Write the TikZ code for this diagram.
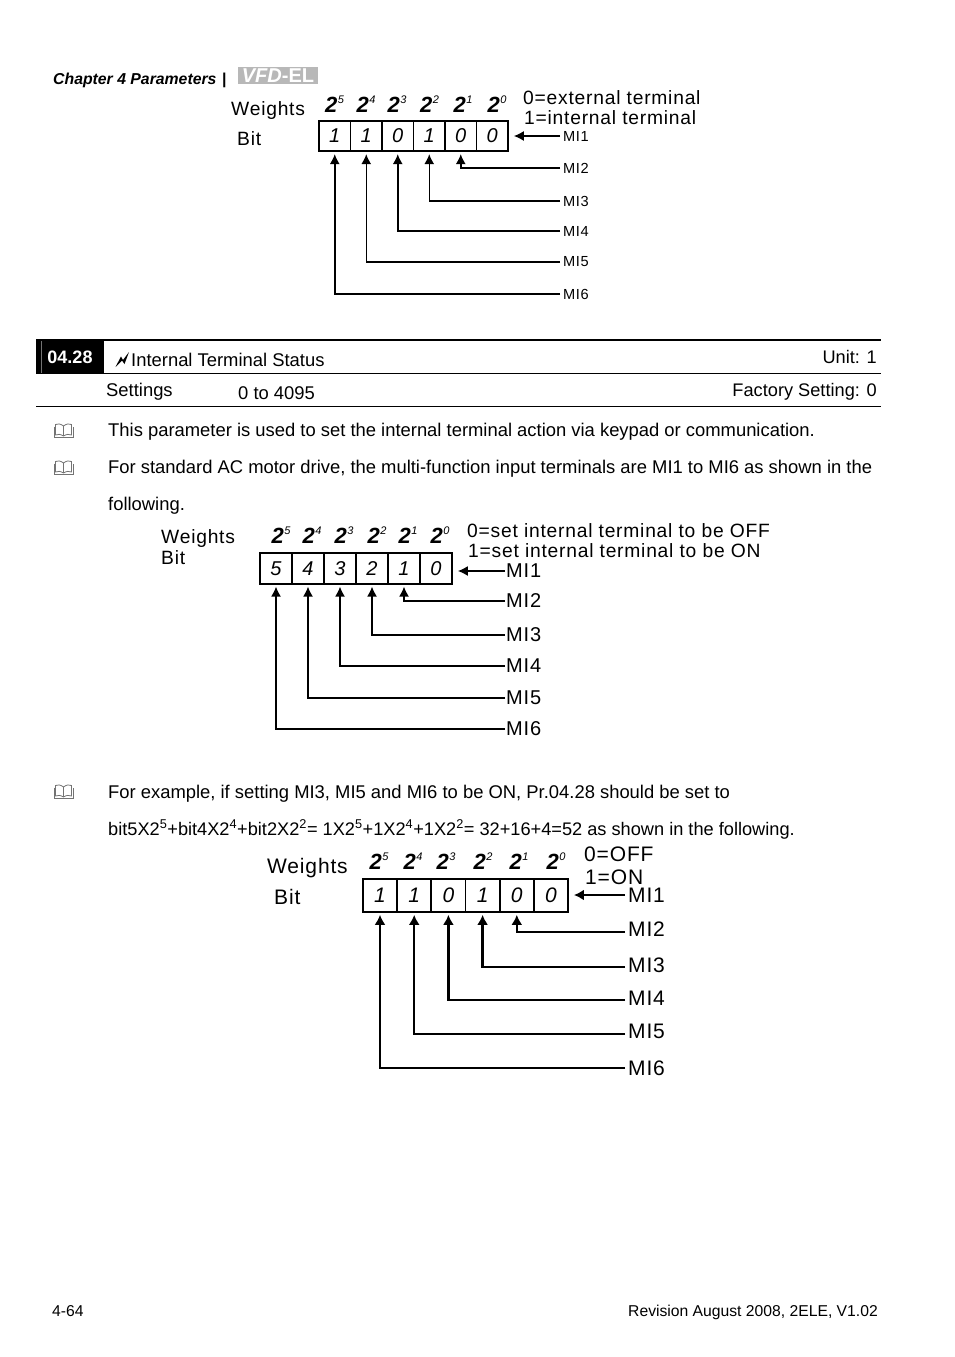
\documentclass[tikz,border=0pt]{standalone}
\usepackage{fontspec}
\setmainfont{Liberation Sans}
\newfontfamily\widefont[LetterSpace=4]{Liberation Sans}
\usetikzlibrary{arrows.meta}
\newcommand{\wgt}[1]{\textbf{2}\raisebox{8.5pt}{\fontsize{11}{11}\selectfont\kern0.5pt #1}}
\tikzset{
	txt/.style={anchor=base west,inner sep=0,font=\fontsize{18.4}{22}\selectfont},
	txtr/.style={anchor=base east,inner sep=0,font=\fontsize{18.2}{22}\selectfont},
	lab/.style={anchor=base west,inner sep=0,font=\widefont\fontsize{19.25}{22}\selectfont},
	labbig/.style={anchor=base west,inner sep=0,font=\widefont\fontsize{21}{24}\selectfont},
	cellbox/.style={rectangle,draw,line width=1.7pt,minimum width=31.5pt,minimum height=30.5pt,inner sep=0,font=\itshape\fontsize{20}{22}\selectfont},
	cellbig/.style={cellbox,minimum width=34.2pt,minimum height=33pt,font=\itshape\fontsize{21}{22}\selectfont},
	weight/.style={inner sep=0,font=\itshape\fontsize{22}{22}\selectfont},
	misma/.style={anchor=west,inner sep=3pt,font=\widefont\fontsize{14.6}{16}\selectfont},
	mimid/.style={anchor=west,inner sep=1pt,font=\widefont\fontsize{20}{22}\selectfont},
	mibig/.style={anchor=west,inner sep=3pt,font=\widefont\fontsize{21}{24}\selectfont},
	wire/.style={draw,line width=1.5pt,shorten >=2pt,-{Latex[length=10pt,width=10pt]}},
	wirebig/.style={wire,line width=2.4pt,-{Latex[length=10pt,width=11pt]}},
	rulethin/.style={draw,line width=1pt},
	bookicon/.pic={
		\draw[black!55,line width=0.8pt] (0,-4) .. controls (-3,-6.5) and (-6,-6.5) .. (-8,-5.5) -- (-8,5) .. controls (-6,4) and (-3,4) .. (0,6) .. controls (3,4) and (6,4) .. (8,5) -- (8,-5.5) .. controls (6,-6.5) and (3,-6.5) .. (0,-4) -- (0,6);
		\draw[black!55,line width=0.8pt] (-9.5,-3.5) -- (-9.5,7) -- (9.5,7) -- (9.5,-3.5);
	}
}
\begin{document}
\begin{tikzpicture}[x=1pt,y=-1pt]
	\useasboundingbox[fill=white] (0,0) rectangle (954,1357);
	% page head
	\node[anchor=base west,inner sep=0,font=\bfseries\itshape\fontsize{15.8}{18}\selectfont] (chapter) at (53,84) {Chapter 4 Parameters \hspace{1pt}|};
	\node[rectangle,fill=black!28,text=white,minimum width=80pt,minimum height=17pt,inner sep=0,font=\bfseries\fontsize{20}{18}\selectfont] (logo) at (278,75.5) {\textit{VFD}-EL};
	% first register
	\node[lab] (weightsa) at (231,115) {Weights};
	\node[lab] (bita) at (237,145) {Bit};
	\node[weight] (wa5) at (334.5,104) {\wgt{5}};
	\node[weight] (wa4) at (366,104) {\wgt{4}};
	\node[weight] (wa3) at (397,104) {\wgt{3}};
	\node[weight] (wa2) at (429.5,104) {\wgt{2}};
	\node[weight] (wa1) at (463,104) {\wgt{1}};
	\node[weight] (wa0) at (497,104) {\wgt{0}};
	\node[lab] (offa) at (523,104) {0=external terminal};
	\node[lab] (ona) at (524,124) {1=internal terminal};
	\node[cellbox] (ca5) at (334.75,136) {1};
	\node[cellbox] (ca4) at (366.25,136) {1};
	\node[cellbox] (ca3) at (397.75,136) {0};
	\node[cellbox] (ca2) at (429.25,136) {1};
	\node[cellbox] (ca1) at (460.75,136) {0};
	\node[cellbox] (ca0) at (492.25,136) {0};
	\node[misma] (mia1) at (560,136) {MI1};
	\node[misma] (mia2) at (560,168) {MI2};
	\node[misma] (mia3) at (560,201) {MI3};
	\node[misma] (mia4) at (560,231) {MI4};
	\node[misma] (mia5) at (560,262) {MI5};
	\node[misma] (mia6) at (560,294) {MI6};
	\path[wire,shorten >=5pt] (mia1.west) -- (ca0.east);
	\path[wire] (mia2.west) -| (ca1.south);
	\path[wire] (mia3.west) -| (ca2.south);
	\path[wire] (mia4.west) -| (ca3.south);
	\path[wire] (mia5.west) -| (ca4.south);
	\path[wire] (mia6.west) -| (ca5.south);
	% parameter header
	\node[rectangle,fill=black,text=white,minimum width=68pt,minimum height=34pt,inner sep=0,font=\bfseries\fontsize{18}{20}\selectfont] (parnum) at (70,357) {04.28};
	\coordinate (rulea) at (36,340);
	\coordinate (ruleb) at (881,340);
	\coordinate (rulec) at (881,373);
	\coordinate (ruled) at (36,406);
	\coordinate (rulee) at (881,406);
	\path[draw,line width=1.8pt] (rulea) -- (ruleb);
	\path[rulethin] (parnum.east |- rulec) -- (rulec);
	\path[rulethin] (ruled) -- (rulee);
	\path[draw,black!55,line width=0.7pt] (41,341) -- (41,373);
	\path[fill=black] (115.5,367) -- (121,356.5) -- (123,360) -- (129,352) -- (124.5,364) -- (122,360.5) -- cycle;
	\node[txt] (partitle) at (131,366) {Internal Terminal Status};
	\node[txtr] (unit) at (877,363) {Unit: 1};
	\node[txt] (settings) at (106,396) {Settings};
	\node[txt] (range) at (238,399) {0 to 4095};
	\node[txtr] (factory) at (877,396) {Factory Setting: 0};
	% body text
	\pic at (63.5,430) {bookicon};
	\node[txt] (linea) at (108,436) {This parameter is used to set the internal terminal action via keypad or communication.};
	\pic at (63.5,467) {bookicon};
	\node[txt] (lineb) at (108,473) {For standard AC motor drive, the multi-function input terminals are MI1 to MI6 as shown in the};
	\node[txt] (linec) at (108,510) {following.};
	% second register
	\node[lab] (weightsb) at (161,543) {Weights};
	\node[lab] (bitb) at (161,564) {Bit};
	\node[weight] (wb5) at (281,535) {\wgt{5}};
	\node[weight] (wb4) at (312,535) {\wgt{4}};
	\node[weight] (wb3) at (344,535) {\wgt{3}};
	\node[weight] (wb2) at (377,535) {\wgt{2}};
	\node[weight] (wb1) at (408,535) {\wgt{1}};
	\node[weight] (wb0) at (440,535) {\wgt{0}};
	\node[lab] (offb) at (467,537) {0=set internal terminal to be OFF};
	\node[lab] (onb) at (468,557) {1=set internal terminal to be ON};
	\node[cellbox,minimum width=32pt] (cb5) at (276,568.5) {5};
	\node[cellbox,minimum width=32pt] (cb4) at (308,568.5) {4};
	\node[cellbox,minimum width=32pt] (cb3) at (340,568.5) {3};
	\node[cellbox,minimum width=32pt] (cb2) at (372,568.5) {2};
	\node[cellbox,minimum width=32pt] (cb1) at (404,568.5) {1};
	\node[cellbox,minimum width=32pt] (cb0) at (436,568.5) {0};
	\node[mimid] (mib1) at (505,571) {MI1};
	\node[mimid] (mib2) at (505,601) {MI2};
	\node[mimid] (mib3) at (505,635) {MI3};
	\node[mimid] (mib4) at (505,666) {MI4};
	\node[mimid] (mib5) at (505,698) {MI5};
	\node[mimid] (mib6) at (505,729) {MI6};
	\path[wire,shorten >=5pt] (mib1.west) -- (mib1.west -| cb0.east);
	\path[wire] (mib2.west) -| (cb1.south);
	\path[wire] (mib3.west) -| (cb2.south);
	\path[wire] (mib4.west) -| (cb3.south);
	\path[wire] (mib5.west) -| (cb4.south);
	\path[wire] (mib6.west) -| (cb5.south);
	% example text
	\pic at (63.5,791) {bookicon};
	\node[txt] (lined) at (108,798) {For example, if setting MI3, MI5 and MI6 to be ON, Pr.04.28 should be set to};
	\node[txt,font=\fontsize{18.2}{22}\selectfont] (linee) at (108,835) {bit5X2\textsuperscript{5}+bit4X2\textsuperscript{4}+bit2X2\textsuperscript{2}= 1X2\textsuperscript{5}+1X2\textsuperscript{4}+1X2\textsuperscript{2}= 32+16+4=52 as shown in the following.};
	% third register
	\node[labbig] (weightsc) at (267,873) {Weights};
	\node[labbig] (bitc) at (274,904) {Bit};
	\node[weight] (wc5) at (379,861) {\wgt{5}};
	\node[weight] (wc4) at (413,861) {\wgt{4}};
	\node[weight] (wc3) at (446,861) {\wgt{3}};
	\node[weight] (wc2) at (483,861) {\wgt{2}};
	\node[weight] (wc1) at (519,861) {\wgt{1}};
	\node[weight] (wc0) at (556,861) {\wgt{0}};
	\node[labbig] (offc) at (584,861) {0=OFF};
	\node[labbig] (onc) at (585,884) {1=ON};
	\node[cellbig] (cc5) at (380,895.5) {1};
	\node[cellbig] (cc4) at (414.2,895.5) {1};
	\node[cellbig] (cc3) at (448.4,895.5) {0};
	\node[cellbig] (cc2) at (482.6,895.5) {1};
	\node[cellbig] (cc1) at (516.8,895.5) {0};
	\node[cellbig] (cc0) at (551,895.5) {0};
	\node[mibig] (mic1) at (625,895) {MI1};
	\node[mibig] (mic2) at (625,929) {MI2};
	\node[mibig] (mic3) at (625,965) {MI3};
	\node[mibig] (mic4) at (625,998) {MI4};
	\node[mibig] (mic5) at (625,1031) {MI5};
	\node[mibig] (mic6) at (625,1068) {MI6};
	\path[wirebig,shorten >=5pt] (mic1.west) -- (mic1.west -| cc0.east);
	\path[wirebig] ([yshift=-3pt]mic2.west) -| (cc1.south);
	\path[wirebig] ([yshift=-2pt]mic3.west) -| (cc2.south);
	\path[wirebig] ([yshift=-2pt]mic4.west) -| (cc3.south);
	\path[wirebig] ([yshift=-3pt]mic5.west) -| (cc4.south);
	\path[wirebig] (mic6.west) -| (cc5.south);
	% page foot
	\node[anchor=base west,inner sep=0,font=\fontsize{15.7}{18}\selectfont] (pagenum) at (52,1316) {4-64};
	\node[anchor=base east,inner sep=0,font=\fontsize{15.7}{18}\selectfont] (revision) at (878,1316) {Revision August 2008, 2ELE, V1.02};
\end{tikzpicture}
\end{document}
